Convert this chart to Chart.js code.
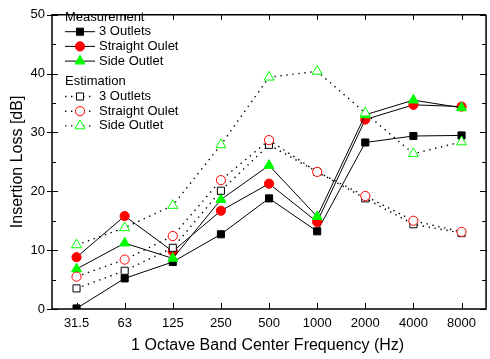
<!DOCTYPE html>
<html>
<head>
<meta charset="utf-8">
<script src="https://cdn.jsdelivr.net/npm/chart.js@4.4.1/dist/chart.umd.min.js"></script>
<style>
  html, body { margin: 0; padding: 0; background: #fff; }
</style>
</head>
<body>
<canvas id="chart" width="490" height="359"></canvas>
<script>
// values (dB)
const freqLabels = ['31.5', '63', '125', '250', '500', '1000', '2000', '4000', '8000'];
const measThree = [0.1, 5.2, 8.0, 12.7, 18.8, 13.2, 28.3, 29.4, 29.5];
const measStraight = [8.8, 15.8, 9.8, 16.7, 21.3, 14.8, 32.2, 34.7, 34.4];
const measSide = [6.8, 11.2, 8.6, 18.6, 24.4, 15.7, 33.0, 35.5, 34.2];
const estThree = [3.5, 6.5, 10.4, 20.1, 27.9, 23.3, 18.8, 14.4, 12.9];
const estStraight = [5.5, 8.4, 12.4, 21.9, 28.7, 23.3, 19.2, 15.0, 13.1];
const estSide = [10.9, 13.8, 17.6, 27.9, 39.4, 40.4, 33.3, 26.4, 28.4];
const yMajor = [0, 10, 20, 30, 40, 50];
const yMinor = [5, 15, 25, 35, 45];
const groupTitles = ['Measurement', 'Estimation'];

const FONT = '"Liberation Sans", Arial, sans-serif';

function series(label, values, group, shape, color, filled, order) {
  return {
    label: label,
    group: group,
    data: values.map((v, i) => ({ x: i, y: v })),
    borderColor: '#000',
    borderWidth: filled ? 1 : 1.4,
    borderDash: filled ? [] : [1.4, 4.6],
    tension: 0,
    pointStyle: shape,
    pointRadius: shape === 'rect' ? 5 : (shape === 'triangle' ? 5.8 : 4.6),
    pointBorderWidth: 1,
    pointBorderColor: color,
    pointBackgroundColor: filled ? color : '#fff',
    order: order
  };
}

const datasets = [
  series('3 Outlets', measThree, 0, 'rect', '#000', true, 6),
  series('Straight Oulet', measStraight, 0, 'circle', '#ff0000', true, 5),
  series('Side Outlet', measSide, 0, 'triangle', '#00ff00', true, 4),
  series('3 Outlets', estThree, 1, 'rect', '#000', false, 3),
  series('Straight Oulet', estStraight, 1, 'circle', '#ff0000', false, 2),
  series('Side Outlet', estSide, 1, 'triangle', '#00ff00', false, 1)
];

function marker(ctx, ds, x, y) {
  const opts = { pointStyle: ds.pointStyle, radius: ds.pointRadius, borderWidth: 1, rotation: 0 };
  ctx.fillStyle = ds.pointBackgroundColor;
  ctx.strokeStyle = ds.pointBorderColor;
  ctx.lineWidth = 1;
  ctx.setLineDash([]);
  Chart.helpers.drawPoint(ctx, opts, x, y);
}

// frame with inward ticks, like the original plot
const framePlugin = {
  id: 'frame',
  beforeDatasetsDraw(chart) {
    const { ctx, chartArea: a } = chart;
    const xs = chart.scales.x, ys = chart.scales.y;
    const right = xs.getPixelForValue(8.51);
    ctx.save();
    ctx.strokeStyle = '#000';
    ctx.lineWidth = 1.5;
    ctx.beginPath();
    ctx.moveTo(right, a.top); ctx.lineTo(a.left, a.top);
    ctx.lineTo(a.left, a.bottom); ctx.lineTo(right, a.bottom);
    ctx.lineTo(right, a.top);
    ctx.stroke();
    ctx.lineWidth = 1;
    ctx.beginPath();
    yMajor.forEach(v => {
      const py = Math.round(ys.getPixelForValue(v)) + 0.5;
      ctx.moveTo(a.left - 5, py); ctx.lineTo(a.left + 6, py);
      ctx.moveTo(right - 6, py); ctx.lineTo(right, py);
    });
    yMinor.forEach(v => {
      const py = Math.round(ys.getPixelForValue(v)) + 0.5;
      ctx.moveTo(a.left, py); ctx.lineTo(a.left + 4, py);
      ctx.moveTo(right - 4, py); ctx.lineTo(right, py);
    });
    freqLabels.forEach((_, i) => {
      const px = Math.round(xs.getPixelForValue(i)) + 0.5;
      ctx.moveTo(px, a.bottom); ctx.lineTo(px, a.bottom - 6);
      ctx.moveTo(px, a.top); ctx.lineTo(px, a.top + 5);
    });
    ctx.stroke();
    ctx.restore();
  }
};

const legendPlugin = {
  id: 'groupLegend',
  afterDraw(chart) {
    const ctx = chart.ctx;
    ctx.save();
    ctx.font = '13px ' + FONT;
    ctx.textBaseline = 'middle';
    let y = 17;
    groupTitles.forEach((title, g) => {
      ctx.fillStyle = '#000';
      ctx.fillText(title, 65, y);
      y += 14.7;
      chart.data.datasets.filter(ds => ds.group === g).forEach(ds => {
        ctx.strokeStyle = '#000';
        ctx.lineWidth = ds.borderWidth;
        ctx.setLineDash(ds.borderDash);
        ctx.beginPath();
        ctx.moveTo(65, y); ctx.lineTo(95, y);
        ctx.stroke();
        marker(ctx, ds, 80, y);
        ctx.fillStyle = '#000';
        ctx.fillText(ds.label, 99, y);
        y += 14.7;
      });
      y += 6;
    });
    ctx.restore();
  }
};

new Chart(document.getElementById('chart'), {
  type: 'line',
  data: { datasets: datasets },
  options: {
    responsive: false,
    animation: false,
    layout: { padding: { top: 9, right: 0, left: 0, bottom: 0 } },
    plugins: {
      legend: { display: false },
      tooltip: { enabled: false }
    },
    scales: {
      x: {
        type: 'linear',
        min: -0.51,
        max: 8.45,
        grid: { display: false, drawTicks: false },
        border: { display: false },
        afterBuildTicks: scale => { scale.ticks = freqLabels.map((_, i) => ({ value: i })); },
        afterFit: scale => { scale.height = 50; },
        ticks: {
          padding: 7,
          color: '#000',
          font: { family: FONT, size: 13 },
          maxRotation: 0,
          autoSkip: false,
          callback: v => freqLabels[v]
        },
        title: {
          display: true,
          text: '1 Octave Band Center Frequency (Hz)',
          color: '#000',
          font: { family: FONT, size: 16 },
          padding: { top: 0, bottom: 4 }
        }
      },
      y: {
        min: 0,
        max: 50,
        grid: { display: false, drawTicks: false },
        border: { display: false },
        afterBuildTicks: scale => { scale.ticks = yMajor.map(v => ({ value: v })); },
        afterFit: scale => { scale.width = 52; },
        ticks: {
          padding: 7,
          color: '#000',
          font: { family: FONT, size: 13 }
        },
        title: {
          display: true,
          text: 'Insertion Loss [dB]',
          color: '#000',
          font: { family: FONT, size: 16 },
          padding: { top: 8, bottom: 0 }
        }
      }
    }
  },
  plugins: [framePlugin, legendPlugin]
});
</script>
</body>
</html>
